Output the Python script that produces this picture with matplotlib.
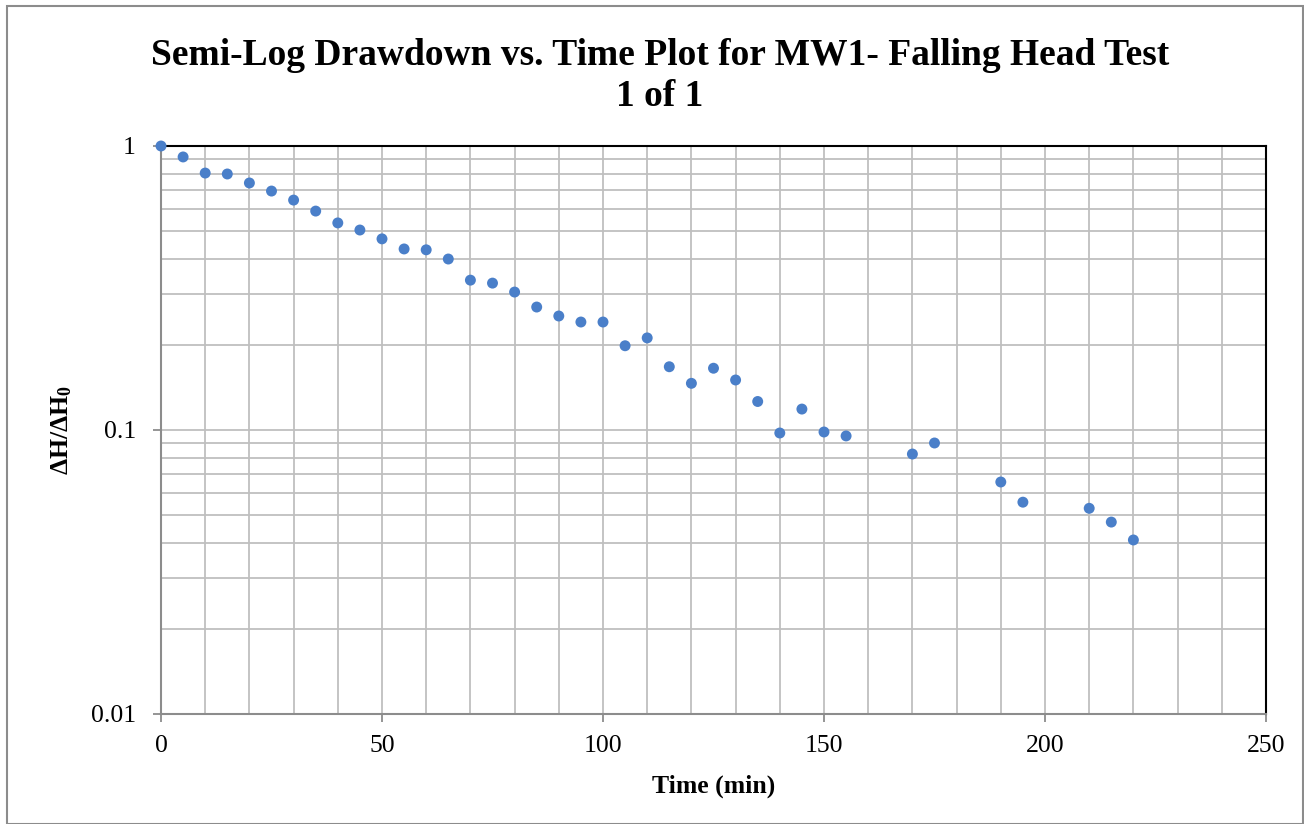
import numpy as np
import matplotlib
matplotlib.use("Agg")
from matplotlib import pyplot as plt
from matplotlib.ticker import MultipleLocator, LogLocator, FixedLocator, NullFormatter
from matplotlib.patches import Rectangle

# data
time_min = [0, 5, 10, 15, 20, 25, 30, 35, 40, 45, 50, 55, 60, 65, 70, 75, 80,
            85, 90, 95, 100, 105, 110, 115, 120, 125, 130, 135, 140, 145, 150,
            155, 170, 175, 190, 195, 210, 215, 220]
dh_ratio = [1.0, 0.915, 0.803, 0.797, 0.741, 0.694, 0.645, 0.590, 0.536, 0.506,
            0.471, 0.434, 0.431, 0.400, 0.337, 0.329, 0.306, 0.271, 0.252, 0.240,
            0.240, 0.198, 0.211, 0.167, 0.146, 0.165, 0.150, 0.126, 0.0976,
            0.1185, 0.0984, 0.0953, 0.0823, 0.0900, 0.0656, 0.0557, 0.0530,
            0.0474, 0.0410]

plt.rcParams['font.family'] = ['Liberation Serif', 'DejaVu Serif']
plt.rcParams['mathtext.fontset'] = 'custom'
plt.rcParams['mathtext.rm'] = 'Liberation Serif'
plt.rcParams['mathtext.bf'] = 'Liberation Serif:bold'
plt.rcParams['mathtext.it'] = 'Liberation Serif:italic'

fig = plt.figure(figsize=(13.04, 8.24), dpi=100)
fig.patches.append(Rectangle((7 / 1304, 0), 1 - 7 / 1304 - 1 / 1304, 1 - 6 / 824,
                             transform=fig.transFigure, fill=False,
                             edgecolor='#8c8c8c', linewidth=1.5))
ax = fig.add_axes([161 / 1304, 1 - 714 / 824, (1266 - 161) / 1304, (714 - 146) / 824])

ax.scatter(time_min, dh_ratio, s=62, color='#4a7fc9', zorder=3, clip_on=False,
           edgecolors='none')

ax.set_yscale('log')
ax.set_ylim(0.01, 1)
ax.set_xlim(0, 250)
ax.xaxis.set_major_locator(MultipleLocator(50))
ax.xaxis.set_minor_locator(MultipleLocator(10))
ax.yaxis.set_major_locator(FixedLocator([0.01, 0.1, 1]))
ax.yaxis.set_minor_locator(LogLocator(base=10, subs=np.arange(2, 10)))
ax.yaxis.set_minor_formatter(NullFormatter())
ax.set_yticklabels(['0.01', '0.1', '1'])

ax.grid(True, which='both', color='#bfbfbf', linewidth=1.3)
ax.set_axisbelow(True)
ax.tick_params(which='major', direction='out', length=6, width=1.3, color='#8c8c8c',
               labelsize=18.5)
ax.tick_params(which='minor', length=0)
ax.tick_params(axis='y', pad=12)
ax.tick_params(axis='x', pad=9)
for s in ['left', 'bottom']:
    ax.spines[s].set_color('#8c8c8c')
    ax.spines[s].set_linewidth(1.5)
for s in ['top', 'right']:
    ax.spines[s].set_color('black')
    ax.spines[s].set_linewidth(1.5)

ax.set_xlabel('Time (min)', fontsize=18.5, fontweight='bold', labelpad=13)
ax.set_ylabel(r'$\mathbf{\Delta H/\Delta H_0}$', fontsize=18.5, labelpad=12)

fig.text(0.506, 1 - 76 / 824,
         'Semi-Log Drawdown vs. Time Plot for MW1- Falling Head Test\n1 of 1',
         ha='center', va='center', fontsize=27, fontweight='bold', linespacing=1.25)

fig.savefig('out.png', dpi=100)
